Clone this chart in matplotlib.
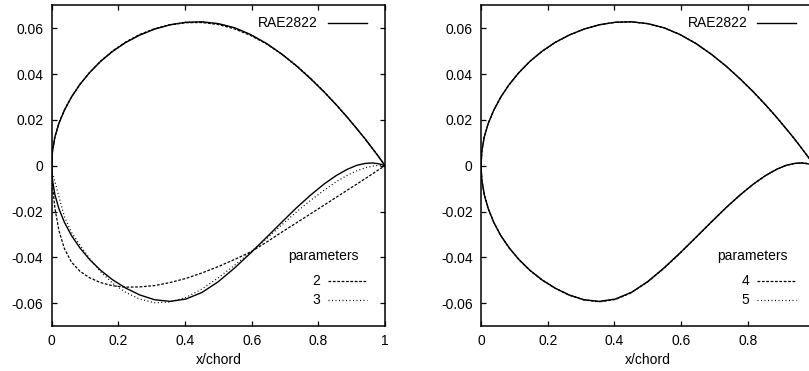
import matplotlib
matplotlib.use("Agg")
import matplotlib.pyplot as plt

plt.rcParams['font.family'] = ['Liberation Sans', 'DejaVu Sans']
plt.rcParams['font.size'] = 10

# x/chord stations (cosine spacing)
x = [0.0, 0.0024, 0.0096, 0.0215, 0.0381, 0.0590, 0.0843, 0.1135, 0.1464,
     0.1828, 0.2222, 0.2643, 0.3087, 0.3549, 0.4025, 0.4510, 0.5000, 0.5490,
     0.5975, 0.6451, 0.6913, 0.7357, 0.7778, 0.8172, 0.8536, 0.8865, 0.9157,
     0.9410, 0.9619, 0.9785, 0.9904, 0.9976, 1.0]

# RAE2822 reference section
rae_up = [0.0, 0.0063, 0.0125, 0.0184, 0.0242, 0.0299, 0.0354, 0.0406, 0.0455,
          0.0499, 0.0538, 0.0570, 0.0596, 0.0615, 0.0626, 0.0628, 0.0620, 0.0602,
          0.0572, 0.0533, 0.0486, 0.0434, 0.0378, 0.0322, 0.0266, 0.0212, 0.0161,
          0.0116, 0.0076, 0.0044, 0.0020, 0.0005, 0.0]
rae_lo = [0.0, -0.0063, -0.0126, -0.0187, -0.0247, -0.0304, -0.0358, -0.0409, -0.0456,
          -0.0498, -0.0534, -0.0564, -0.0585, -0.0592, -0.0582, -0.0553, -0.0506, -0.0446,
          -0.0380, -0.0312, -0.0245, -0.0182, -0.0127, -0.0080, -0.0043, -0.0016, 0.0002,
          0.0010, 0.0012, 0.0009, 0.0005, 0.0001, 0.0]

# 2 parameters
p2_up = [0.0, 0.0066, 0.0127, 0.0186, 0.0243, 0.0299, 0.0354, 0.0406, 0.0456,
         0.0501, 0.0540, 0.0573, 0.0598, 0.0615, 0.0624, 0.0625, 0.0616, 0.0597,
         0.0568, 0.0531, 0.0486, 0.0435, 0.0380, 0.0323, 0.0266, 0.0212, 0.0161,
         0.0115, 0.0076, 0.0044, 0.0020, 0.0005, 0.0]
p2_lo = [0.0, -0.0085, -0.0185, -0.0282, -0.0362, -0.0420, -0.0460, -0.0489, -0.0510,
         -0.0524, -0.0530, -0.0529, -0.0523, -0.0510, -0.0492, -0.0468, -0.0440, -0.0409,
         -0.0376, -0.0333, -0.0289, -0.0248, -0.0209, -0.0172, -0.0138, -0.0107, -0.0080,
         -0.0056, -0.0036, -0.0020, -0.0009, -0.0002, 0.0]

# 3 parameters
p3_up = [0.0, 0.0064, 0.0126, 0.0185, 0.0243, 0.0299, 0.0354, 0.0406, 0.0455,
         0.0499, 0.0538, 0.0571, 0.0597, 0.0615, 0.0625, 0.0627, 0.0619, 0.0601,
         0.0571, 0.0532, 0.0485, 0.0433, 0.0378, 0.0322, 0.0266, 0.0212, 0.0161,
         0.0116, 0.0076, 0.0044, 0.0020, 0.0005, 0.0]
p3_lo = [0.0, -0.0035, -0.0068, -0.0135, -0.0222, -0.0290, -0.0345, -0.0405, -0.0462,
         -0.0513, -0.0553, -0.0582, -0.0598, -0.0595, -0.0575, -0.0538, -0.0489, -0.0434,
         -0.0376, -0.0318, -0.0257, -0.0200, -0.0150, -0.0107, -0.0070, -0.0042, -0.0022,
         -0.0009, -0.0002, 0.0001, 0.0001, 0.0, 0.0]

# 4 parameters
p4_up = [0.0, 0.0063, 0.0125, 0.0184, 0.0242, 0.0299, 0.0354, 0.0406, 0.0455,
         0.0499, 0.0538, 0.0570, 0.0596, 0.0615, 0.0626, 0.0628, 0.0620, 0.0602,
         0.0572, 0.0533, 0.0486, 0.0434, 0.0378, 0.0322, 0.0265, 0.0211, 0.0161,
         0.0116, 0.0076, 0.0044, 0.0020, 0.0005, 0.0]
p4_lo = [0.0, -0.0061, -0.0123, -0.0186, -0.0247, -0.0305, -0.0359, -0.0410, -0.0457,
         -0.0499, -0.0535, -0.0565, -0.0586, -0.0594, -0.0584, -0.0554, -0.0507, -0.0448,
         -0.0382, -0.0313, -0.0246, -0.0183, -0.0127, -0.0080, -0.0043, -0.0016, 0.0002,
         0.0010, 0.0012, 0.0009, 0.0005, 0.0001, 0.0]

# 5 parameters
p5_up = [0.0, 0.0063, 0.0125, 0.0184, 0.0242, 0.0299, 0.0353, 0.0406, 0.0455,
         0.0499, 0.0537, 0.0570, 0.0596, 0.0615, 0.0626, 0.0628, 0.0620, 0.0602,
         0.0572, 0.0533, 0.0486, 0.0434, 0.0379, 0.0322, 0.0266, 0.0212, 0.0161,
         0.0116, 0.0076, 0.0044, 0.0020, 0.0005, 0.0]
p5_lo = [0.0, -0.0064, -0.0126, -0.0187, -0.0246, -0.0304, -0.0358, -0.0409, -0.0456,
         -0.0498, -0.0534, -0.0564, -0.0585, -0.0593, -0.0583, -0.0553, -0.0506, -0.0446,
         -0.0380, -0.0312, -0.0245, -0.0182, -0.0127, -0.0080, -0.0043, -0.0016, 0.0001,
         0.0010, 0.0012, 0.0010, 0.0005, 0.0001, 0.0]

xticks = [0, 0.2, 0.4, 0.6, 0.8, 1.0]
xticklabels_left = ['0', '0.2', '0.4', '0.6', '0.8', '1']
xticklabels_right = ['0', '0.2', '0.4', '0.6', '0.8', '']  # "1" falls outside the picture
yticks = [-0.06, -0.04, -0.02, 0, 0.02, 0.04, 0.06]
yticklabels = ['-0.06', '-0.04', '-0.02', '0', '0.02', '0.04', '0.06']

DASH = (0, (2.2, 1.3))
DOT = (0, (0.8, 2.0))

fig = plt.figure(figsize=(8.09, 3.71), dpi=100)
ax1 = fig.add_axes([0.0639, 0.121, 0.412, 0.8647])
ax2 = fig.add_axes([0.5946, 0.121, 0.412, 0.8647])


def section(ax, up, lo, ls, lw):
    ax.plot(x, up, color='k', linestyle=ls, lw=lw)
    ax.plot(x, lo, color='k', linestyle=ls, lw=lw)


def key(ax, label, y, ls, lw):
    ax.text(0.805, y, label, transform=ax.transAxes, ha='right', va='center')
    ax.plot([0.829, 0.946], [y, y], transform=ax.transAxes, color='k',
            linestyle=ls, lw=lw, clip_on=False)


panels = [(ax1, [(p2_up, p2_lo), (p3_up, p3_lo)], ['2', '3'], xticklabels_left),
          (ax2, [(p4_up, p4_lo), (p5_up, p5_lo)], ['4', '5'], xticklabels_right)]

for ax, fits, names, xlabels in panels:
    section(ax, rae_up, rae_lo, '-', 1.0)
    section(ax, fits[0][0], fits[0][1], DASH, 0.9)
    section(ax, fits[1][0], fits[1][1], DOT, 0.9)

    ax.set_xlim(0, 1)
    ax.set_ylim(-0.07, 0.07)
    ax.set_xticks(xticks)
    ax.set_xticklabels(xlabels)
    ax.set_yticks(yticks)
    ax.set_yticklabels(yticklabels)
    ax.tick_params(direction='in', length=3.6, width=0.9, top=True, right=True,
                   pad=6, labelsize=10)
    for s in ax.spines.values():
        s.set_linewidth(1.1)
    ax.set_xlabel('x/chord', labelpad=3)

    # gnuplot-style keys
    ax.text(0.799, 0.946, 'RAE2822', transform=ax.transAxes, ha='right', va='center')
    ax.plot([0.829, 0.946], [0.946, 0.946], transform=ax.transAxes, color='k',
            lw=1.0, clip_on=False)
    ax.text(0.814, 0.2185, 'parameters', transform=ax.transAxes, ha='center', va='center')
    key(ax, names[0], 0.1406, DASH, 0.9)
    key(ax, names[1], 0.0814, DOT, 0.9)

fig.savefig('out.png', dpi=100)
